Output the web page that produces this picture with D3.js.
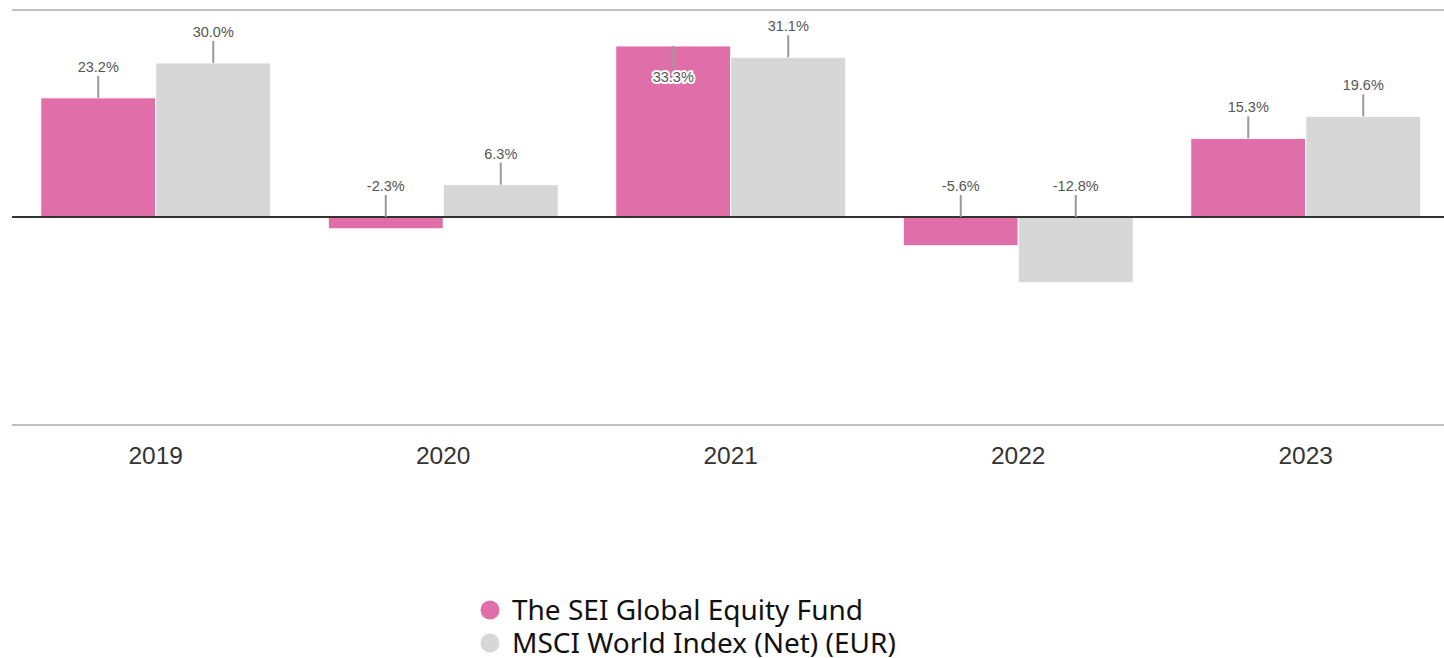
<!DOCTYPE html>
<html>
<head>
<meta charset="utf-8">
<script src="https://cdn.jsdelivr.net/npm/d3@7"></script>
<style>
  body { margin: 0; background: #fff; }
  svg { display: block; }
</style>
</head>
<body>
<div id="chart"></div>
<script>
const years = ["2019", "2020", "2021", "2022", "2023"];
const seriesNames = ["The SEI Global Equity Fund", "MSCI World Index (Net) (EUR)"];
const fundValues = [23.2, -2.3, 33.3, -5.6, 15.3];
const indexValues = [30.0, 6.3, 31.1, -12.8, 19.6];
const colors = ["#e06fa9", "#d7d7d7"];

const width = 1444, height = 658;

const svg = d3.select("#chart")
    .append("svg")
    .attr("width", width)
    .attr("height", height);

const x = d3.scaleBand()
    .domain(years)
    .range([12, 1449.5])
    .paddingInner(0.2)
    .paddingOuter(0.1);

const x1 = d3.scaleBand()
    .domain([0, 1])
    .range([0, x.bandwidth()]);

const y = d3.scaleLinear()
    .domain([-40.5, 40.3])
    .range([425, 10]);

// frame lines
svg.append("line")
    .attr("x1", 12).attr("x2", width)
    .attr("y1", y(40.3)).attr("y2", y(40.3))
    .attr("stroke", "#c0c0c0").attr("stroke-width", 2);
svg.append("line")
    .attr("x1", 12).attr("x2", width)
    .attr("y1", y(-40.5)).attr("y2", y(-40.5))
    .attr("stroke", "#c0c0c0").attr("stroke-width", 2);

const rows = [];
years.forEach((yr, i) => {
    rows.push({ year: yr, s: 0, value: fundValues[i] });
    rows.push({ year: yr, s: 1, value: indexValues[i] });
});

// bars
svg.selectAll("rect.bar")
    .data(rows)
    .join("rect")
    .attr("class", "bar")
    .attr("x", d => x(d.year) + x1(d.s))
    .attr("width", x1.bandwidth())
    .attr("y", d => y(Math.max(0, d.value)))
    .attr("height", d => Math.abs(y(d.value) - y(0)))
    .attr("fill", d => colors[d.s])
    .attr("stroke", "#fff")
    .attr("stroke-width", 1);

// zero line
svg.append("line")
    .attr("x1", 12).attr("x2", width)
    .attr("y1", y(0)).attr("y2", y(0))
    .attr("stroke", "#333").attr("stroke-width", 2);

// value labels with leader lines
const leader = 22;
const labels = svg.append("g");
rows.forEach(d => {
    const cx = x(d.year) + x1(d.s) + x1.bandwidth() / 2;
    const base = y(Math.max(0, d.value));
    const inside = base - leader - 18 < y(40.3);
    const end = inside ? base + leader : base - leader;
    labels.append("line")
        .attr("x1", cx).attr("x2", cx)
        .attr("y1", base).attr("y2", end)
        .attr("stroke", "#999").attr("stroke-width", 2);
    const t = labels.append("text")
        .attr("x", cx)
        .attr("y", inside ? end + 14 : end - 4)
        .attr("text-anchor", "middle")
        .attr("font-family", "Liberation Sans, Arial, sans-serif")
        .attr("font-size", 14.5)
        .attr("fill", "#555")
        .text(d.value.toFixed(1) + "%");
    if (inside) {
        t.attr("stroke", "#fff").attr("stroke-width", 4)
         .attr("stroke-linejoin", "round").attr("paint-order", "stroke");
    }
});

// x axis labels
svg.selectAll("text.year")
    .data(years)
    .join("text")
    .attr("class", "year")
    .attr("x", d => x(d) + x.bandwidth() / 2)
    .attr("y", 464)
    .attr("text-anchor", "middle")
    .attr("font-family", "Liberation Sans, Arial, sans-serif")
    .attr("font-size", 24.5)
    .attr("fill", "#333")
    .text(d => d);

// legend
const legend = svg.append("g").attr("transform", "translate(490, 0)");
seriesNames.forEach((name, i) => {
    const cy = 610 + i * 33;
    legend.append("circle")
        .attr("cx", 0).attr("cy", cy).attr("r", 9.5)
        .attr("fill", colors[i]);
    legend.append("text")
        .attr("x", 22).attr("y", cy + 10)
        .attr("font-family", "Noto Sans, sans-serif")
        .attr("font-size", 28)
        .attr("fill", "#111")
        .text(name);
});
</script>
</body>
</html>
